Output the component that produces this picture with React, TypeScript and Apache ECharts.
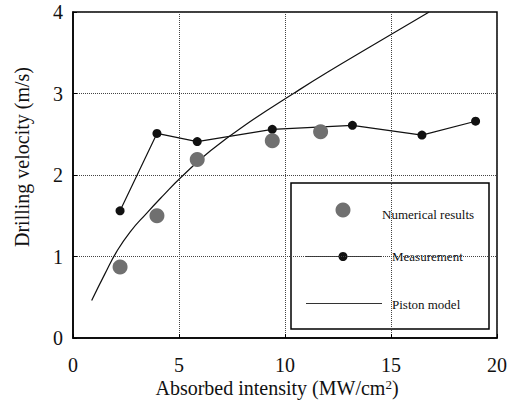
import React, { useEffect, useRef } from "react";
import * as echarts from "echarts";

const numericalX = [2.22, 3.96, 5.86, 9.4, 11.68];
const numericalY = [0.87, 1.5, 2.19, 2.42, 2.53];

const measurementX = [2.22, 3.96, 5.86, 9.4, 13.18, 16.46, 18.99];
const measurementY = [1.56, 2.51, 2.41, 2.56, 2.61, 2.49, 2.66];

const pistonX = [0.88, 1.51, 2.06, 2.69, 3.47, 4.26, 5.05, 6.5, 8.5, 10.4, 12, 14, 16.8];
const pistonY = [0.46, 0.79, 1.06, 1.3, 1.53, 1.75, 1.96, 2.3, 2.68, 3.0, 3.26, 3.57, 4.0];

const xTicks = [0, 5, 10, 15, 20];
const yTicks = [0, 1, 2, 3, 4];

const legendLabels = ["Numerical results", "Measurement", "Piston model"];
const xName = "Absorbed intensity (MW/cm{sup|2})";
const yName = "Drilling velocity (m/s)";

const FONT = "Liberation Serif";

export default function App() {
  const ref = useRef<HTMLDivElement>(null);

  useEffect(() => {
    if (!ref.current) return;
    const chart = echarts.init(ref.current, undefined, { renderer: "svg" });

    const lx = 291, ly = 183, lw = 198, lh = 146;

    chart.setOption({
      animation: false,
      backgroundColor: "#fff",
      textStyle: { fontFamily: FONT },
      grid: {
        left: 73,
        right: 12,
        top: 12,
        bottom: 62,
        outerBoundsMode: "none",
        containLabel: false,
        show: true,
        borderColor: "#000",
        borderWidth: 1.5,
        backgroundColor: "transparent",
      },
      xAxis: {
        type: "value",
        min: xTicks[0],
        max: xTicks[xTicks.length - 1],
        interval: 5,
        axisLine: { lineStyle: { color: "#000", width: 1.5 } },
        axisTick: { inside: true, length: 4, lineStyle: { color: "#000" } },
        axisLabel: { fontFamily: FONT, fontSize: 20, color: "#111", margin: 17 },
        splitLine: { show: true, lineStyle: { type: "dotted", color: "#444", width: 1 } },
      },
      yAxis: {
        type: "value",
        min: yTicks[0],
        max: yTicks[yTicks.length - 1],
        interval: 1,
        axisLine: { show: true, lineStyle: { color: "#000", width: 1.5 } },
        axisTick: { show: true, inside: true, length: 4, lineStyle: { color: "#000" } },
        axisLabel: { fontFamily: FONT, fontSize: 20, color: "#111", margin: 10, padding: [12, 0, 0, 0] },
        splitLine: { show: true, lineStyle: { type: "dotted", color: "#444", width: 1 } },
      },
      graphic: [
        {
          type: "text",
          x: 277,
          y: 388,
          style: {
            text: xName,
            fontFamily: FONT,
            fontSize: 20,
            fill: "#111",
            align: "center",
            verticalAlign: "middle",
            rich: {
              sup: { fontFamily: FONT, fontSize: 13, fill: "#111", verticalAlign: "top", lineHeight: 20 },
            },
          },
        },
        {
          type: "text",
          x: 22,
          y: 157,
          rotation: Math.PI / 2,
          style: {
            text: yName,
            fontFamily: FONT,
            fontSize: 20,
            fill: "#111",
            align: "center",
            verticalAlign: "middle",
          },
        },
        {
          type: "group",
          z: 100,
          children: [
            {
              type: "rect",
              shape: { x: lx, y: ly, width: lw, height: lh },
              style: { fill: "#fff", stroke: "#000", lineWidth: 1.5 },
            },
            {
              type: "circle",
              shape: { cx: 343, cy: 210, r: 7.5 },
              style: { fill: "#707070" },
            },
            {
              type: "text",
              x: 382,
              y: 214,
              style: { text: legendLabels[0], fontFamily: FONT, fontSize: 13, fill: "#111", verticalAlign: "middle" },
            },
            {
              type: "line",
              shape: { x1: 306, y1: 256.5, x2: 382, y2: 256.5 },
              style: { stroke: "#333", lineWidth: 1 },
            },
            {
              type: "circle",
              shape: { cx: 343, cy: 256.5, r: 4.5 },
              style: { fill: "#111" },
            },
            {
              type: "text",
              x: 392,
              y: 256.5,
              style: { text: legendLabels[1], fontFamily: FONT, fontSize: 13, fill: "#111", verticalAlign: "middle" },
            },
            {
              type: "line",
              shape: { x1: 306, y1: 303.5, x2: 382, y2: 303.5 },
              style: { stroke: "#333", lineWidth: 1 },
            },
            {
              type: "text",
              x: 392,
              y: 304,
              style: { text: legendLabels[2], fontFamily: FONT, fontSize: 13, fill: "#111", verticalAlign: "middle" },
            },
          ],
        },
      ],
      series: [
        {
          name: "Piston model",
          type: "line",
          data: pistonX.map((x, i) => [x, pistonY[i]]),
          showSymbol: false,
          symbol: "none",
          smooth: true,
          lineStyle: { color: "#111", width: 1.2 },
          z: 2,
        },
        {
          name: "Measurement",
          type: "line",
          data: measurementX.map((x, i) => [x, measurementY[i]]),
          symbol: "circle",
          symbolSize: 9,
          itemStyle: { color: "#111" },
          lineStyle: { color: "#111", width: 1.2 },
          z: 3,
        },
        {
          name: "Numerical results",
          type: "scatter",
          data: numericalX.map((x, i) => [x, numericalY[i]]),
          symbol: "circle",
          symbolSize: 15,
          itemStyle: { color: "#707070", opacity: 1 },
          z: 4,
        },
      ],
    });

    return () => chart.dispose();
  }, []);

  return <div ref={ref} style={{ width: 509, height: 400, position: "absolute", left: 0, top: 0 }} />;
}
